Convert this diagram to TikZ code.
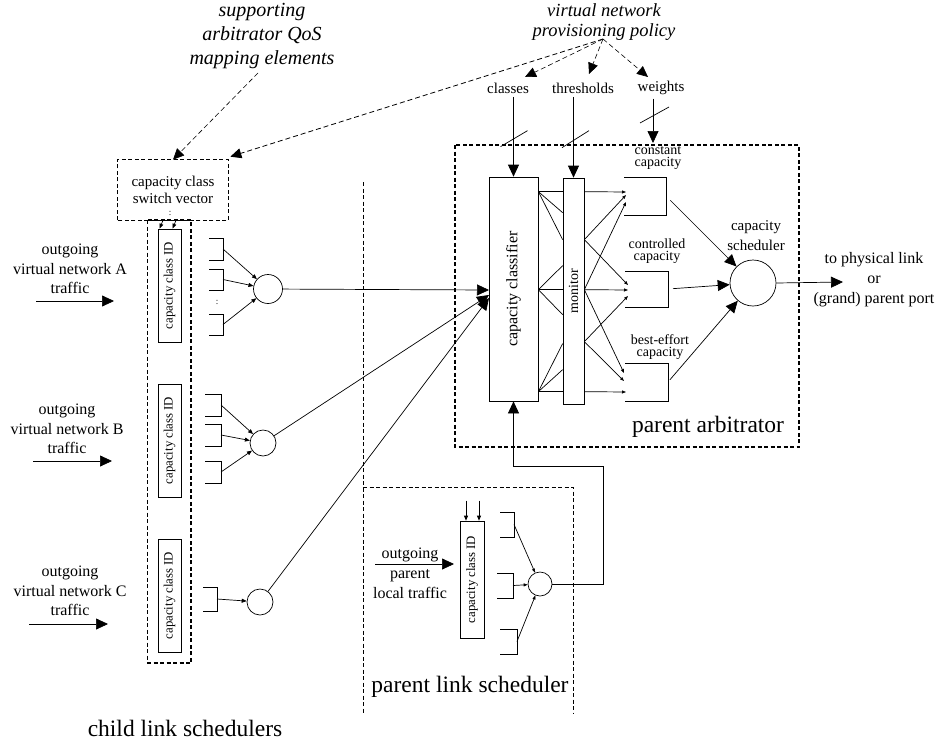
\documentclass[tikz,border=0pt]{standalone}
\usepackage{fontspec}
\setmainfont{Liberation Serif}
\usetikzlibrary{arrows.meta,calc}

\tikzset{
  bigarr/.style={-{Triangle[length=12pt,width=11pt]}},
  smallarr/.style={-{Triangle[length=5pt,width=4pt]}},
  tinyarr/.style={-{Triangle[length=4pt,width=3pt]}},
  dasharr/.style={dash pattern=on 5pt off 3pt, -{Triangle[length=11pt,width=10pt]}},
  thickdash/.style={line width=1.2pt, dash pattern=on 4pt off 2.5pt},
  thindash/.style={line width=0.6pt, dash pattern=on 4pt off 2.5pt},
  sched/.style={draw, circle, inner sep=0pt},
  idbox/.style={draw, inner sep=0pt, minimum width=23pt},
  lbl/.style={align=center, font=\fontsize{16}{19.5}\selectfont},
  smalllbl/.style={align=center, font=\fontsize{15}{17}\selectfont},
  qlbl/.style={align=center, font=\fontsize{14}{12.5}\selectfont},
  biglbl/.style={font=\fontsize{23.5}{26}\selectfont},
}

% queue drawn as an open bracket, coordinate #1 at its right side
\newcommand{\qbracket}[5]{%
  \draw (#2,#4) -- (#3,#4) -- (#3,#5) -- (#2,#5);
  \coordinate (#1) at (#3,{(#4+#5)/2});
}

\begin{document}
\begin{tikzpicture}[x=1pt,y=-1pt,line width=0.7pt]
  \useasboundingbox (0,0) rectangle (939,742);

  % policy labels
  \node[align=center, font=\itshape\fontsize{20}{24}\selectfont] (qosmap) at (262,36) {supporting\\arbitrator QoS\\mapping elements};
  \node[align=center, font=\itshape\fontsize{18.5}{20}\selectfont] (vnpp) at (604,22) {virtual network\\provisioning policy};
  \coordinate (qossrc) at (258,73);
  \coordinate (vnsrc) at (603,39);
  \node[smalllbl] (classes) at (508,88) {classes};
  \node[smalllbl] (thresholds) at (583,88) {thresholds};
  \node[smalllbl] (weights) at (661,88) {weights};
  \coordinate (tipcl) at (525,77);
  \coordinate (tipth) at (589,74);
  \coordinate (tipwt) at (648,77);

  % child link schedulers
  \node[smalllbl, minimum width=110pt, minimum height=60pt] (swv) at (173,190) {capacity class\\switch vector};
  \draw[thickdash] (swv.south west) rectangle (swv.north east);
  \draw[thindash] (147,220) -- (147,663);
  \draw[thickdash] (147,663) -- (191,663) -- (191,220) -- (147,220);

  \node[idbox, minimum height=113pt] (idA) at (169.5,285.5) {\rotatebox{90}{\fontsize{12.8}{13}\selectfont capacity class ID}};
  \node[idbox, minimum height=113pt] (idB) at (169.5,440.5) {\rotatebox{90}{\fontsize{12.8}{13}\selectfont capacity class ID}};
  \node[idbox, minimum height=113pt] (idC) at (169.5,595.5) {\rotatebox{90}{\fontsize{12.8}{13}\selectfont capacity class ID}};
  \draw[smallarr] ([xshift=-10pt]swv.south) -- ([xshift=-10pt]idA.north);
  \draw[smallarr] ([xshift=3pt]swv.south) -- ([xshift=3pt]idA.north);
  \node[font=\fontsize{9}{9}\selectfont, inner sep=0pt] (swdots) at (170,213) {:};

  \node[lbl] (inA) at (70,269) {outgoing\\virtual network A\\traffic};
  \node[lbl] (inB) at (67,429) {outgoing\\virtual network B\\traffic};
  \node[lbl] (inC) at (70,591) {outgoing\\virtual network C\\traffic};
  \coordinate (inAs) at (36,301); \coordinate (inAe) at (114,301);
  \coordinate (inBs) at (33,461); \coordinate (inBe) at (112,461);
  \coordinate (inCs) at (29,624); \coordinate (inCe) at (108,624);
  \draw[bigarr] (inAs) -- (inAe);
  \draw[bigarr] (inBs) -- (inBe);
  \draw[bigarr] (inCs) -- (inCe);

  \qbracket{qa1}{209}{223}{238}{260}
  \qbracket{qa2}{209}{223}{269}{290}
  \qbracket{qa3}{209}{223}{314}{335}
  \node[font=\fontsize{9}{9}\selectfont, inner sep=0pt] (qadots) at (217,302) {:};
  \qbracket{qb1}{205}{221}{394}{416}
  \qbracket{qb2}{205}{221}{424}{446}
  \qbracket{qb3}{205}{221}{461}{483}
  \qbracket{qc1}{203}{217}{587}{611}

  \node[sched, minimum size=29pt] (sa) at (268,289) {};
  \node[sched, minimum size=26pt] (sb) at (263,443) {};
  \node[sched, minimum size=26pt] (sc) at (260,602) {};
  \foreach \q in {qa1,qa2,qa3} \draw[smallarr] (\q) -- (sa);
  \foreach \q in {qb1,qb2,qb3} \draw[smallarr] (\q) -- (sb);
  \draw[smallarr] (qc1) -- (sc);

  \node[biglbl] (childlbl) at (185,728) {child link schedulers};

  % parent arbitrator
  \draw[thickdash] (455,145) rectangle (799,447);
  \node[biglbl] (arblbl) at (708,427) {parent arbitrator};
  \node[draw, inner sep=0pt, minimum width=49pt, minimum height=224pt] (cls) at (513.5,289) {\rotatebox{90}{\fontsize{16}{16}\selectfont capacity classifier}};
  \node[draw, inner sep=0pt, minimum width=21pt, minimum height=226pt] (mon) at (573.5,291) {\rotatebox{90}{\fontsize{14}{14}\selectfont monitor}};

  \draw[bigarr] (classes.south -| cls.north) -- (cls.north);
  \draw[bigarr] (thresholds.south -| mon.north) -- (mon.north);
  \coordinate (wtip) at (653,143);
  \draw[bigarr] (weights.south -| wtip) -- (wtip);
  \draw ([shift={(-13,-30)}]cls.north) -- ++(27,-16);
  \draw ([shift={(-11.5,-30)}]mon.north) -- ++(27,-17);
  \draw ([shift={(-13,-20)}]wtip) -- ++(29,-16);

  \draw[dasharr, line width=0.6pt] (qossrc) -- (swv.north);
  \draw[dasharr, line width=0.8pt] (vnsrc) -- ([xshift=2pt,yshift=3pt]swv.north east);
  \draw[dasharr, line width=0.6pt] (vnsrc) -- (tipcl);
  \draw[dasharr, line width=0.6pt] (vnsrc) -- (tipth);
  \draw[dasharr, line width=0.6pt] (vnsrc) -- (tipwt);

  \draw[bigarr] (sa) -- (489,290);
  \draw[bigarr] (sb) -- (489,295);
  \draw[bigarr] (sc) -- (489,298);

  % classifier to monitor mesh
  \foreach \c/\s in {15/14, 15/35, 15/62, 113/88, 113/112, 113/137, 215/166, 215/192, 215/214}
    \draw ($(cls.north east)+(0,\c)$) -- ($(mon.north west)+(0,\s)$);

  \qbracket{qcon}{624}{666}{177}{215}
  \qbracket{qctl}{625}{668}{271}{307}
  \qbracket{qbe}{625}{668}{363}{401}
  \node[qlbl] (conlbl) at (658,158) {constant\\capacity};
  \node[qlbl] (ctllbl) at (657,251) {controlled\\capacity};
  \node[qlbl] (belbl) at (660,347) {best-effort\\capacity};

  \foreach \n/\x/\y in {con1/626/192, con2/626/195, con3/626/202, ctl1/628/285, ctl2/628/290, ctl3/628/296, be1/624/373, be2/624/381, be3/626/392}
    \coordinate (\n) at (\x,\y);
  \foreach \s/\n in {14/con1, 62/con2, 62/ctl1, 112/con3, 112/ctl2, 112/be1, 164/ctl3, 164/be2, 214/be3}
    \draw[tinyarr] ($(mon.north east)+(0,\s)$) -- (\n);

  \node[sched, minimum size=46pt] (cs) at (753,283) {};
  \node[align=center, font=\fontsize{15}{20}\selectfont] (cslbl) at (756,236) {capacity\\scheduler};
  \draw[bigarr, shorten <=6pt] (qcon) -- (cs);
  \draw[bigarr, shorten <=5pt] (qctl) -- (cs);
  \draw[bigarr, shorten <=3pt] (qbe) -- (cs);
  \node[align=center, font=\fontsize{16}{20}\selectfont] (phys) at (874,280) {to physical link\\or\\(grand) parent port};
  \coordinate (outtip) at (843,282);
  \draw[bigarr] (cs.east) -- (outtip);

  % parent link scheduler
  \draw[thindash] (363,182) -- (363,713);
  \draw[thindash] (363,487) -- (573,487) -- (573,713);
  \node[biglbl] (plslbl) at (470,687) {parent link scheduler};
  \node[idbox, minimum width=24pt, minimum height=117pt] (idP) at (472,579.5) {\rotatebox{90}{\fontsize{12.8}{13}\selectfont capacity class ID}};
  \draw[smallarr] ([xshift=-6pt,yshift=20pt]idP.north) -- ([xshift=-6pt]idP.north);
  \draw[smallarr] ([xshift=7pt,yshift=20pt]idP.north) -- ([xshift=7pt]idP.north);
  \node[align=center, font=\fontsize{16}{20}\selectfont] (inP) at (410,573) {outgoing\\parent\\local traffic};
  \coordinate (inPs) at (375,564); \coordinate (inPe) at (454,564);
  \draw[bigarr] (inPs) -- (inPe);
  \qbracket{qp1}{500}{514}{512}{537}
  \qbracket{qp2}{497}{513}{573}{598}
  \qbracket{qp3}{500}{517}{629}{654}
  \node[sched, minimum size=24pt] (sp) at (540,584) {};
  \foreach \q in {qp1,qp2,qp3} \draw[tinyarr] (\q) -- (sp);
  \draw[bigarr] (sp.east) -| (603,466) -| (cls.south);
\end{tikzpicture}
\end{document}
